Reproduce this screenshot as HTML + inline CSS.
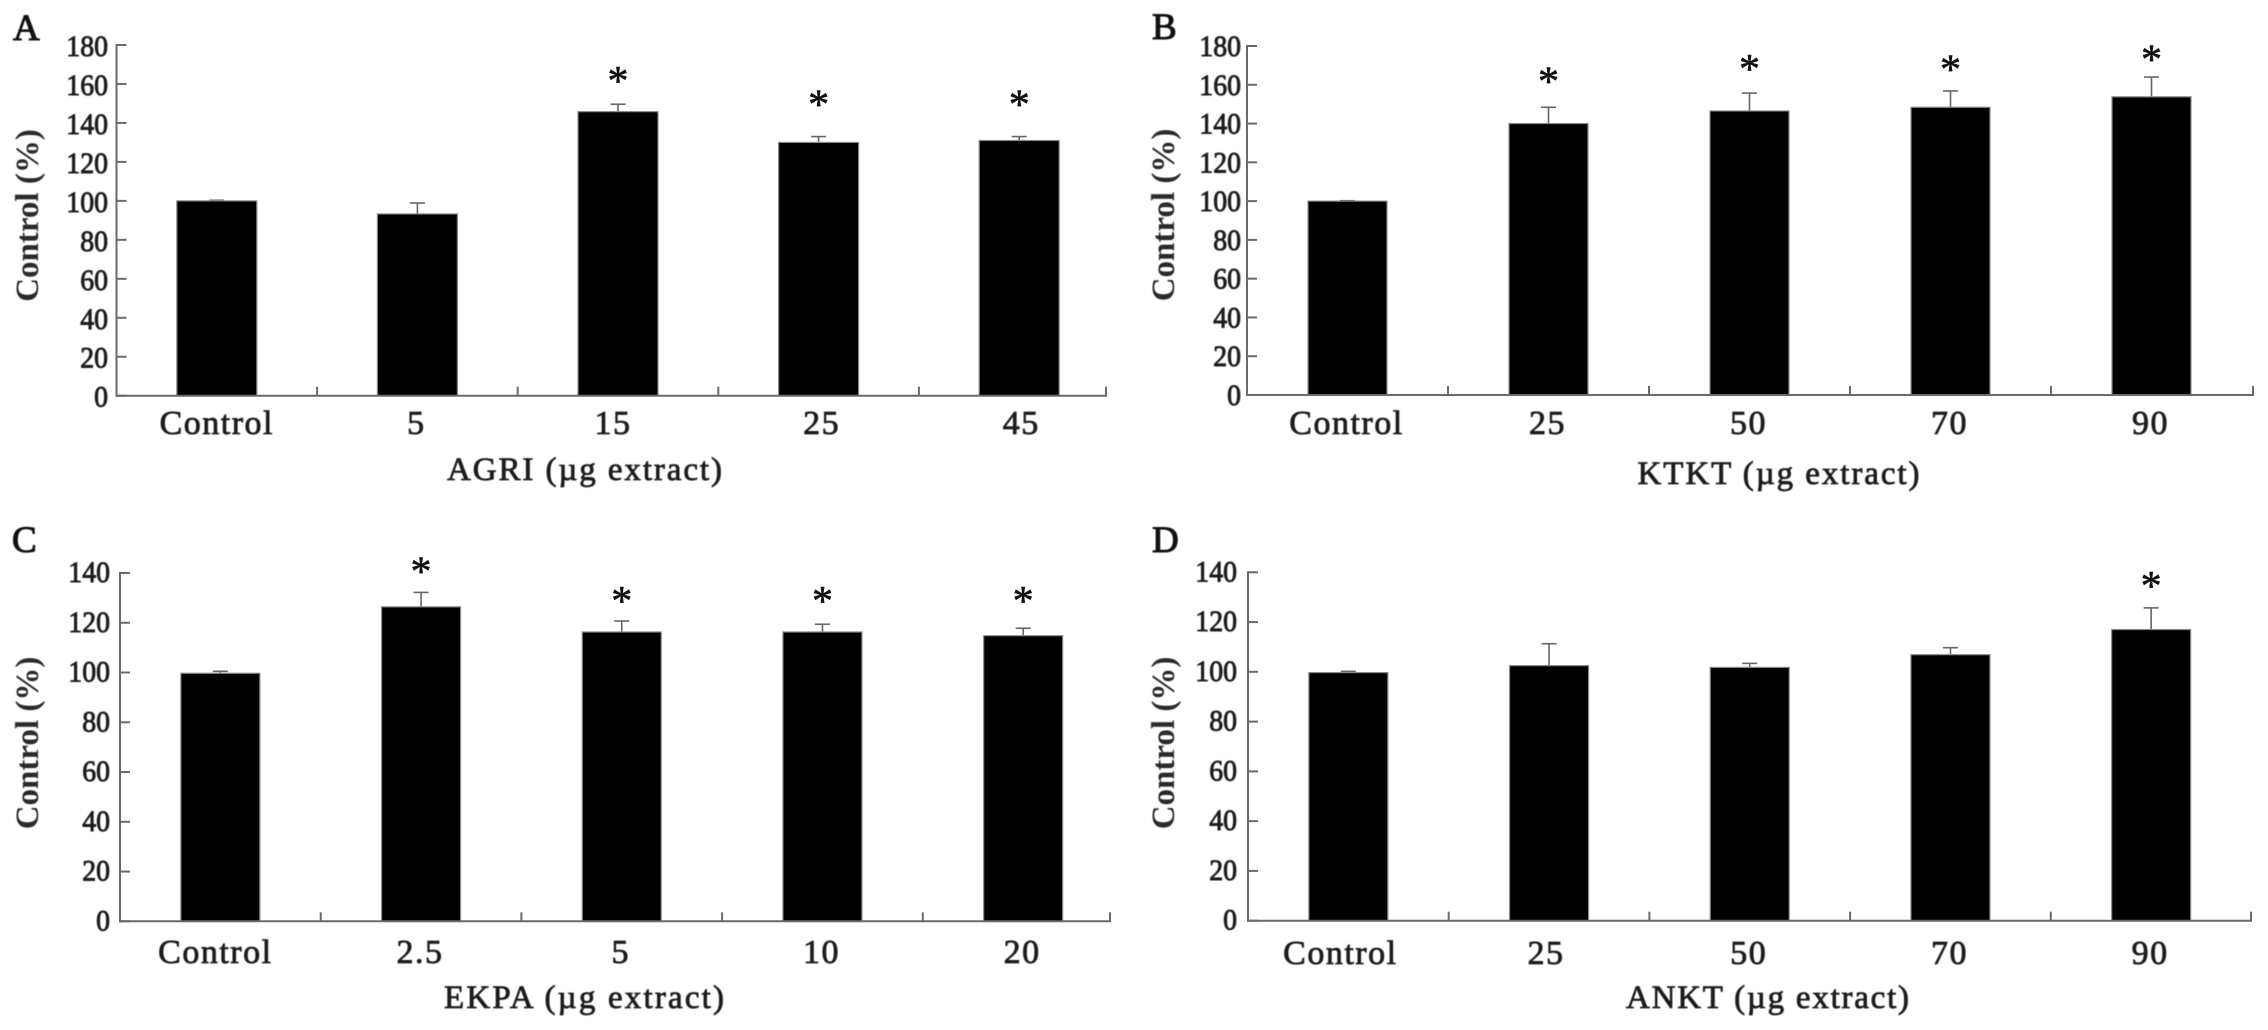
<!DOCTYPE html>
<html lang="en">
<head>
<meta charset="utf-8">
<title>Control (%) by extract dose</title>
<style>
  html, body { margin: 0; padding: 0; background: #fff; }
  body { width: 2268px; height: 1030px; overflow: hidden; }
  svg { display: block; }
  text { font-family: "Liberation Serif", "Times New Roman", serif; fill: #1c1c1c; }
  .soft { filter: blur(0.65px); }
  .tick-label { font-size: 30px; stroke: #1c1c1c; stroke-width: 0.9px; }
  .cat-label { font-size: 34px; letter-spacing: 1.5px; stroke: #1c1c1c; stroke-width: 0.8px; }
  .x-title { font-size: 33px; stroke: #1c1c1c; stroke-width: 0.8px; }
  .y-title { font-size: 33px; font-weight: bold; fill: #2a2a2a; }
  .panel-letter { font-size: 37px; fill: #111; stroke: #111; stroke-width: 1.1px; }
  .star { font-size: 42px; fill: #111; stroke: #111; stroke-width: 0.6px; }
</style>
</head>
<body>
<svg id="figure" xmlns="http://www.w3.org/2000/svg" width="2268" height="1030" viewBox="0 0 2268 1030">
  <rect x="0" y="0" width="2268" height="1030" fill="#ffffff"></rect>
</svg>
<script>
// ---- Data ----
const agriCategories = ["Control", "5", "15", "25", "45"];
const agriValues = [100, 93.3, 145.8, 130, 131];
const agriErrorTops = [100.3, 98.9, 149.6, 133, 133];
const agriStarLevels = [null, null, 164.4, 152.3, 152.3];
const agriTicks = [0, 20, 40, 60, 80, 100, 120, 140, 160, 180];

const ktktCategories = ["Control", "25", "50", "70", "90"];
const ktktValues = [100, 140, 146.5, 148.4, 153.8];
const ktktErrorTops = [100.2, 148.4, 155.7, 156.8, 164];
const ktktStarLevels = [null, 164.5, 171, 170.7, 175.9];
const ktktTicks = [0, 20, 40, 60, 80, 100, 120, 140, 160, 180];

const ekpaCategories = ["Control", "2.5", "5", "10", "20"];
const ekpaValues = [99.7, 126.4, 116.3, 116.3, 114.8];
const ekpaErrorTops = [100.5, 132.2, 120.7, 119.4, 117.8];
const ekpaStarLevels = [null, 142.9, 131, 131, 131];
const ekpaTicks = [0, 20, 40, 60, 80, 100, 120, 140];

const anktCategories = ["Control", "25", "50", "70", "90"];
const anktValues = [99.7, 102.5, 101.8, 106.9, 117];
const anktErrorTops = [100.2, 111.3, 103.4, 109.7, 125.7];
const anktStarLevels = [null, null, null, null, 136.7];
const anktTicks = [0, 20, 40, 60, 80, 100, 120, 140];

// ---- Panel layout (geometry and wording, kept apart from the values) ----
const panelA = { id: "a", letter: "A", letterX: 13, letterY: 40, xTitle: "AGRI (µg extract)",
  categories: agriCategories, values: agriValues, errorTops: agriErrorTops, stars: agriStarLevels, ticks: agriTicks,
  left: 116.5, band: 200.6, axisEnd: 1106, top: 45, bottom: 395.7, yMax: 180, barWidth: 80,
  tickLabelRight: 108, tickLabelDy: 11, catY: 434, catShift: [1, 0, -4, 4, 3], xTitleX: 584.5, xTitleY: 480, xTitleLen: 275,
  yTitleX: 38, yTitleY: 215.5 };
const panelB = { id: "b", letter: "B", letterX: 1152, letterY: 39, xTitle: "KTKT (µg extract)",
  categories: ktktCategories, values: ktktValues, errorTops: ktktErrorTops, stars: ktktStarLevels, ticks: ktktTicks,
  left: 1247, band: 201, axisEnd: 2253, top: 46, bottom: 395, yMax: 180, barWidth: 79,
  tickLabelRight: 1241, tickLabelDy: 10, catY: 434, catShift: [0, 0, 0, 0, 0], xTitleX: 1778.5, xTitleY: 484, xTitleLen: 282,
  yTitleX: 1174, yTitleY: 215 };
const panelC = { id: "c", letter: "C", letterX: 12, letterY: 552, xTitle: "EKPA (µg extract)",
  categories: ekpaCategories, values: ekpaValues, errorTops: ekpaErrorTops, stars: ekpaStarLevels, ticks: ekpaTicks,
  left: 120, band: 200.7, axisEnd: 1110, top: 573, bottom: 921.3, yMax: 140, barWidth: 79,
  tickLabelRight: 110, tickLabelDy: 9, catY: 963, catShift: [-4, 0, 0, 0, 0], xTitleX: 584, xTitleY: 1008, xTitleLen: 280,
  yTitleX: 38, yTitleY: 743 };
const panelD = { id: "d", letter: "D", letterX: 1152, letterY: 552, xTitle: "ANKT (µg extract)",
  categories: anktCategories, values: anktValues, errorTops: anktErrorTops, stars: anktStarLevels, ticks: anktTicks,
  left: 1248, band: 200.7, axisEnd: 2251, top: 572.3, bottom: 920.7, yMax: 140, barWidth: 79,
  tickLabelRight: 1237, tickLabelDy: 9, catY: 964, catShift: [-7, -2, 0, 0, 0], xTitleX: 1767.5, xTitleY: 1008, xTitleLen: 283,
  yTitleX: 1174, yTitleY: 743 };

const panels = [panelA, panelB, panelC, panelD];
const SVG_NS = "http://www.w3.org/2000/svg";
const AXIS_COLOR = "#6a6a6a";
const root = document.getElementById("figure");

function shape(parent, tag, attrs, content) {
  const el = document.createElementNS(SVG_NS, tag);
  for (const key in attrs) el.setAttribute(key, attrs[key]);
  if (content !== undefined) el.textContent = content;
  parent.appendChild(el);
  return el;
}

function drawPanel(p) {
  const xCenter = i => p.left + p.band * (i + 0.5);
  const xEdge = i => p.left + p.band * i;
  const yScale = v => p.bottom - (v / p.yMax) * (p.bottom - p.top);

  const group = shape(root, "g", {});
  
  

  const letter = shape(group, "text", { x: p.letterX, y: p.letterY, class: "panel-letter soft" }, p.letter);
  
  

  // bars and error bars sit under the axes
  p.values.forEach((value, i) => {
    const cx = xCenter(i);
    const errTop = yScale(p.errorTops[i]);
    const barTop = yScale(value);

    const stem = shape(group, "line", { x1: cx, x2: cx, y1: errTop, y2: barTop, stroke: "#666", "stroke-width": 1.6 });
    
    

    const cap = shape(group, "line", { x1: cx - 7.5, x2: cx + 7.5, y1: errTop, y2: errTop, stroke: "#666", "stroke-width": 1.6 });
    
    

    const bar = shape(group, "rect", { x: cx - p.barWidth / 2, y: barTop, width: p.barWidth, height: p.bottom - barTop,
      fill: "#000", stroke: "#8a8a8a", "stroke-width": 1.2 });
    
    

    if (p.stars[i] !== null) {
      const star = shape(group, "text", { x: cx, y: yScale(p.stars[i]) + 19.5, "text-anchor": "middle", class: "star" }, "*");
      
      
    }

    const label = shape(group, "text", { x: cx - 1 + p.catShift[i], y: p.catY, "text-anchor": "middle", class: "cat-label soft" }, p.categories[i]);
    
    
  });

  // y axis
  const yAxis = shape(group, "line", { x1: p.left, x2: p.left, y1: p.top - 1, y2: p.bottom + 1, stroke: AXIS_COLOR, "stroke-width": 2 });
  
  

  p.ticks.forEach(t => {
    const y = yScale(t);
    const tick = shape(group, "line", { x1: p.left, x2: p.left + 10, y1: y, y2: y, stroke: AXIS_COLOR, "stroke-width": 2 });
    
    

    const text = String(t);
    const label = shape(group, "text", { x: p.tickLabelRight, y: y + p.tickLabelDy, "text-anchor": "end",
      textLength: 13.9 * text.length, lengthAdjust: "spacingAndGlyphs", class: "tick-label soft" }, text);
    
    
  });

  // x axis
  const xAxis = shape(group, "line", { x1: p.left - 1, x2: p.axisEnd + 1, y1: p.bottom, y2: p.bottom, stroke: AXIS_COLOR, "stroke-width": 2 });
  
  

  p.categories.forEach((c, i) => {
    const x = i === p.categories.length - 1 ? p.axisEnd : xEdge(i + 1);
    const tick = shape(group, "line", { x1: x, x2: x, y1: p.bottom - 9, y2: p.bottom, stroke: AXIS_COLOR, "stroke-width": 2 });
    
    
  });

  const xTitle = shape(group, "text", { x: p.xTitleX, y: p.xTitleY, "text-anchor": "middle", textLength: p.xTitleLen,
    lengthAdjust: "spacing", class: "x-title soft" }, p.xTitle);
  
  

  const yTitle = shape(group, "text", { x: 0, y: 0, "text-anchor": "middle", class: "y-title soft",
    transform: "translate(" + p.yTitleX + " " + p.yTitleY + ") rotate(-90)" }, "Control (%)");
  
  
}

panels.forEach(drawPanel);
</script>
</body>
</html>
